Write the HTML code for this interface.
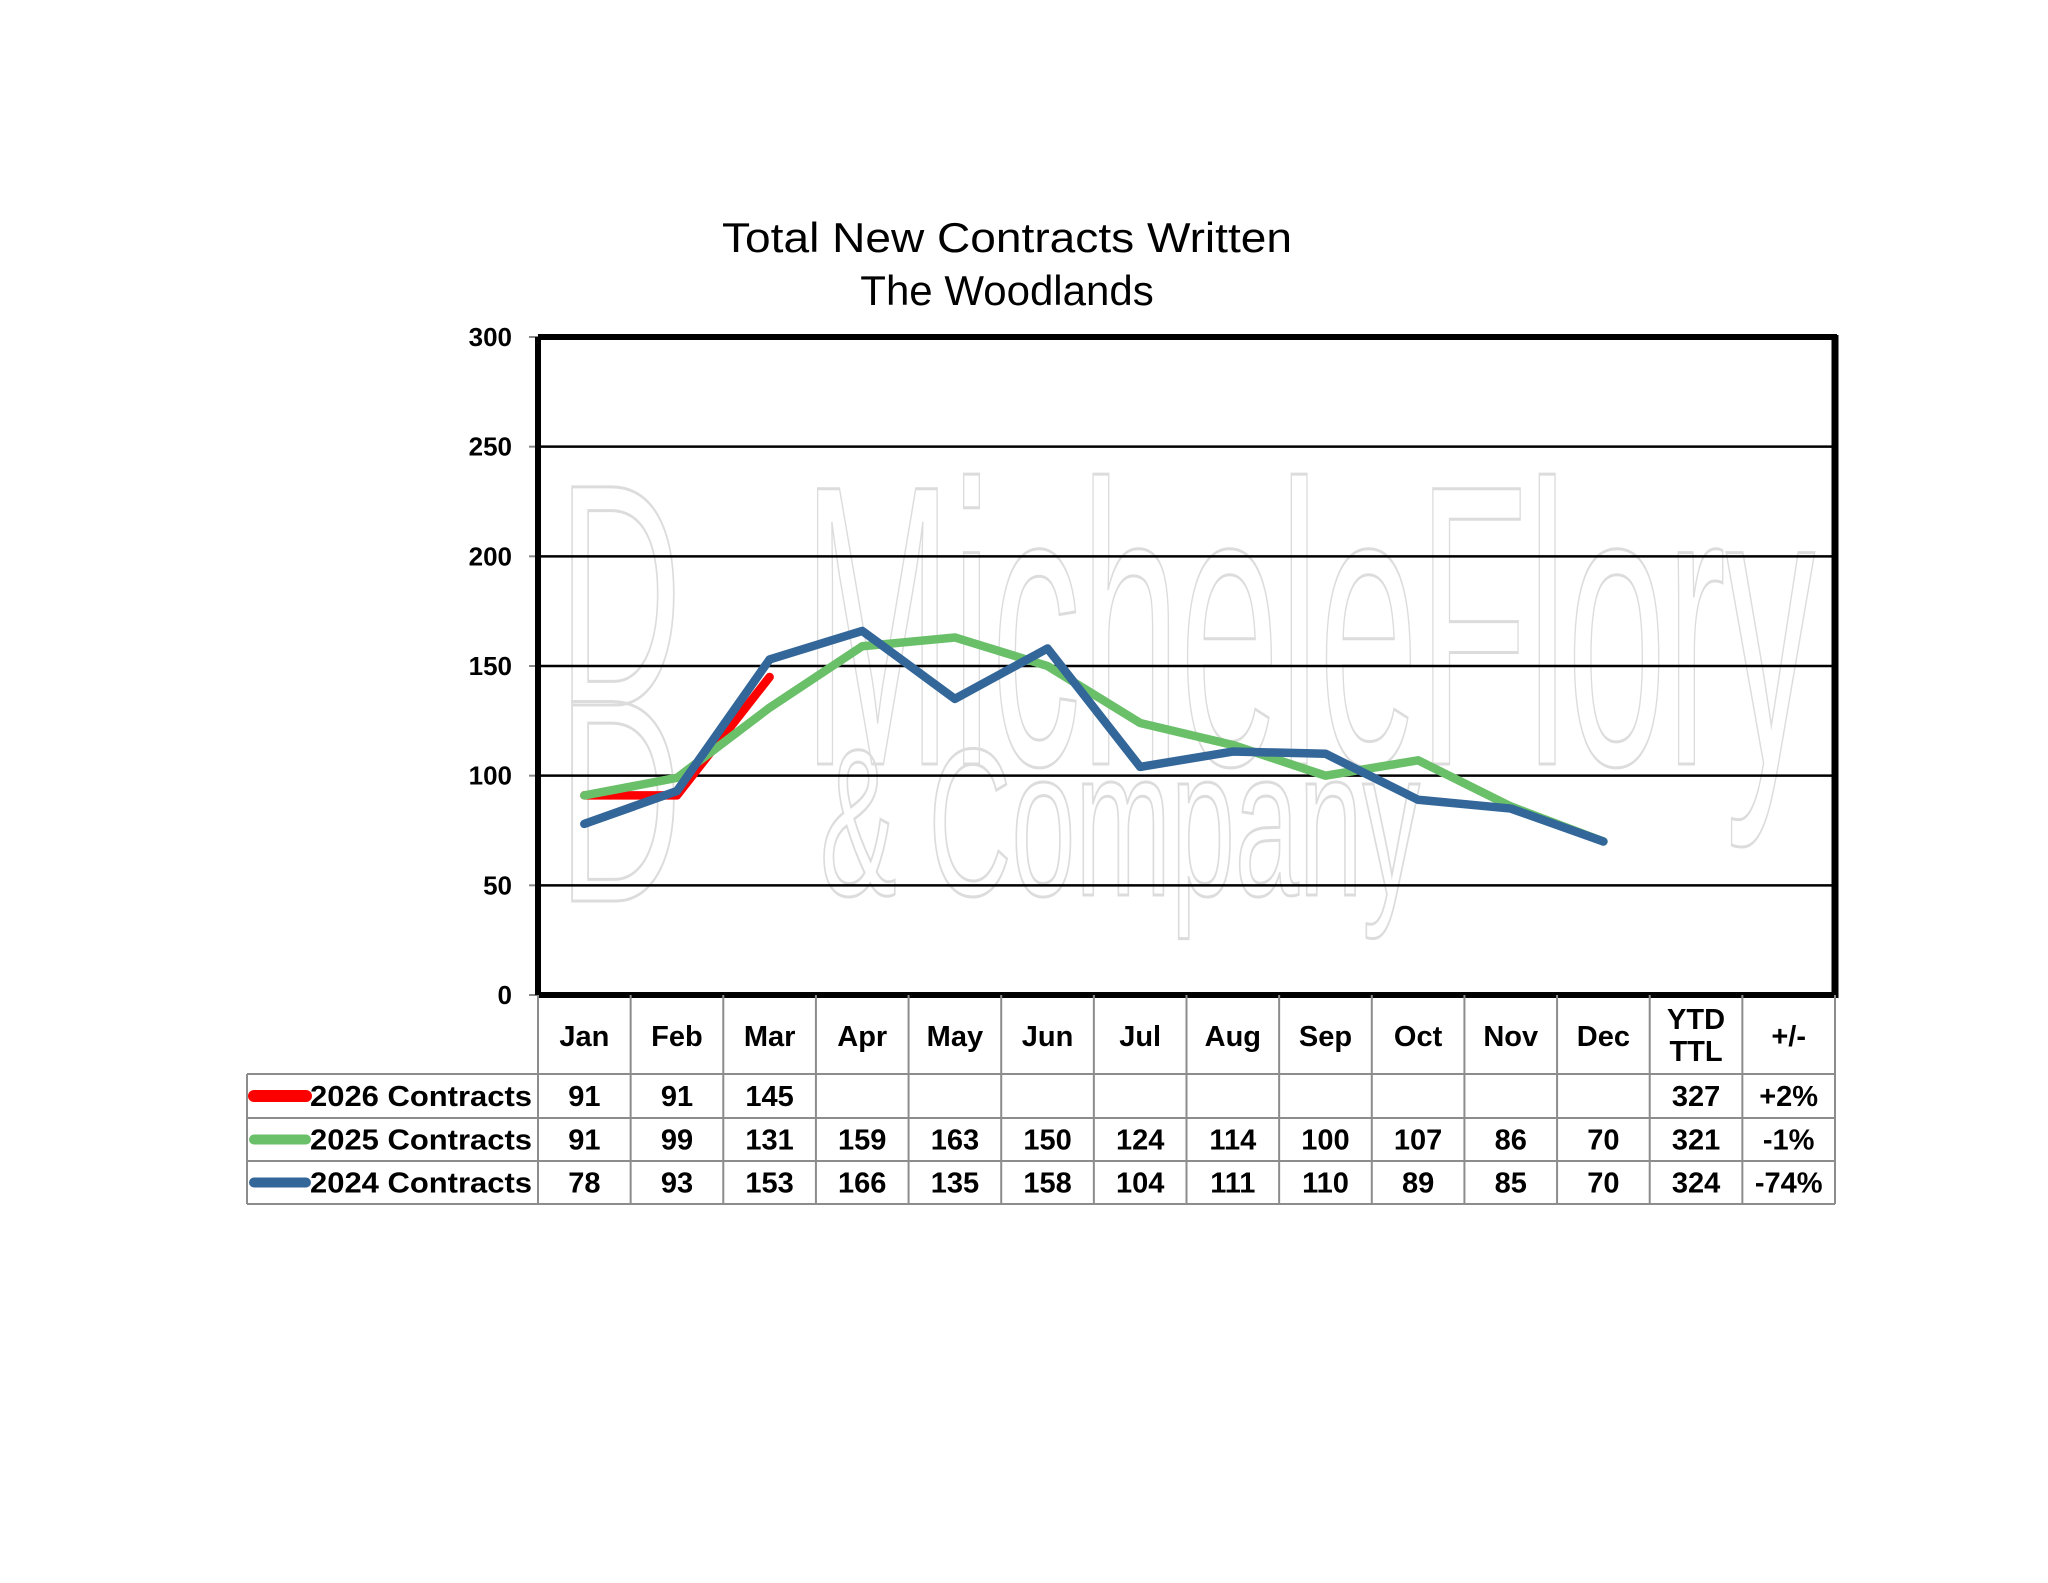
<!DOCTYPE html>
<html><head><meta charset="utf-8"><style>
html,body{margin:0;padding:0;background:#fff;}
svg{display:block;}
text{font-family:"Liberation Sans",Arial,sans-serif;}
</style></head><body>
<svg id="s" width="2048" height="1583" viewBox="0 0 2048 1583" xmlns="http://www.w3.org/2000/svg">
<rect width="2048" height="1583" fill="#fff"/>
<text x="1007" y="252" font-size="42" text-anchor="middle" textLength="570" lengthAdjust="spacingAndGlyphs">Total New Contracts Written</text>
<text x="1007" y="305" font-size="42" text-anchor="middle">The Woodlands</text>
<!-- watermark -->
<g fill="none" stroke="#dcdcdc" stroke-width="3">
<text x="803" y="764" font-size="400" textLength="1012" lengthAdjust="spacingAndGlyphs">MicheleFlory</text>
<text x="820" y="895" font-size="210" textLength="600" lengthAdjust="spacingAndGlyphs">&amp; Company</text>
<text x="558" y="705" font-size="317" textLength="124" lengthAdjust="spacingAndGlyphs">D</text>
<text x="558" y="901" font-size="290" textLength="124" lengthAdjust="spacingAndGlyphs">D</text>
</g>
<g id="grid"></g>
<g id="lines"></g>
<g id="tbl"></g>
</svg>
<script>
const NS="http://www.w3.org/2000/svg";
const L=538,R=1835,T=337,B=995,cw=(R-L)/14;
const yv=v=>B-(B-T)*v/300;
const xc=i=>L+cw*(i+0.5);
function el(p,t,a,txt){const e=document.createElementNS(NS,t);for(const k in a)e.setAttribute(k,a[k]);if(txt!==undefined)e.textContent=txt;p.appendChild(e);return e;}
const g=document.getElementById('grid');
for(let v=0;v<=300;v+=50){const y=yv(v);
 if(v>0&&v<300) el(g,'line',{x1:L,x2:R,y1:y,y2:y,stroke:'#000','stroke-width':2.5});
 el(g,'line',{x1:L-9,x2:L,y1:y,y2:y,stroke:'#888','stroke-width':2});
 el(g,'text',{x:512,y:y+9,'font-size':26,'font-weight':'bold','text-anchor':'end'},v);}
el(g,'line',{x1:L,x2:R+2,y1:T,y2:T,stroke:'#000','stroke-width':6});
el(g,'line',{x1:R,x2:R,y1:T-2,y2:B+3,stroke:'#000','stroke-width':7});
el(g,'line',{x1:L,x2:R,y1:B,y2:B,stroke:'#000','stroke-width':6});
el(g,'line',{x1:L,x2:L,y1:T,y2:B,stroke:'#000','stroke-width':6});
const d26=[91,91,145],d25=[91,99,131,159,163,150,124,114,100,107,86,70],d24=[78,93,153,166,135,158,104,111,110,89,85,70];
const ln=document.getElementById('lines');
function poly(d,c){el(ln,'polyline',{points:d.map((v,i)=>xc(i)+','+yv(v)).join(' '),fill:'none',stroke:c,'stroke-width':8.5,'stroke-linejoin':'round','stroke-linecap':'round'});}
poly(d26,'#ff0000');poly(d25,'#6abf69');poly(d24,'#336699');
const t=document.getElementById('tbl');
const rows=[999,1074,1118,1161,1204];
const gc='#8c8c8c';
for(let i=0;i<=14;i++){el(t,'line',{x1:L+cw*i,x2:L+cw*i,y1:B,y2:1204,stroke:gc,'stroke-width':2});}
el(t,'line',{x1:247,x2:247,y1:1074,y2:1204,stroke:gc,'stroke-width':2});
for(let r=1;r<5;r++)el(t,'line',{x1:247,x2:R,y1:rows[r],y2:rows[r],stroke:gc,'stroke-width':2});
const hdr=['Jan','Feb','Mar','Apr','May','Jun','Jul','Aug','Sep','Oct','Nov','Dec'];
hdr.forEach((h,i)=>el(t,'text',{x:xc(i),y:1046,'font-size':29,'font-weight':'bold','text-anchor':'middle'},h));
el(t,'text',{x:xc(12),y:1029,'font-size':29,'font-weight':'bold','text-anchor':'middle'},'YTD');
el(t,'text',{x:xc(12),y:1061,'font-size':29,'font-weight':'bold','text-anchor':'middle'},'TTL');
el(t,'text',{x:xc(13),y:1046,'font-size':29,'font-weight':'bold','text-anchor':'middle'},'+/-');
const data=[[d26,'327','+2%','#ff0000','2026 Contracts'],[d25,'321','-1%','#6abf69','2025 Contracts'],[d24,'324','-74%','#336699','2024 Contracts']];
data.forEach((r,k)=>{const y0=rows[k+1],y1=rows[k+2],ym=(y0+y1)/2;
 r[0].forEach((v,i)=>el(t,'text',{x:xc(i),y:ym+10,'font-size':29,'font-weight':'bold','text-anchor':'middle'},v));
 el(t,'text',{x:xc(12),y:ym+10,'font-size':29,'font-weight':'bold','text-anchor':'middle'},r[1]);
 el(t,'text',{x:xc(13),y:ym+10,'font-size':29,'font-weight':'bold','text-anchor':'middle'},r[2]);
 el(t,'line',{x1:254,x2:306,y1:ym,y2:ym,stroke:r[3],'stroke-width':k==0?12:10,'stroke-linecap':'round'});
 el(t,'text',{x:310,y:ym+10,'font-size':29,'font-weight':'bold',textLength:222,lengthAdjust:'spacingAndGlyphs'},r[4]);});
</script>
</body></html>
